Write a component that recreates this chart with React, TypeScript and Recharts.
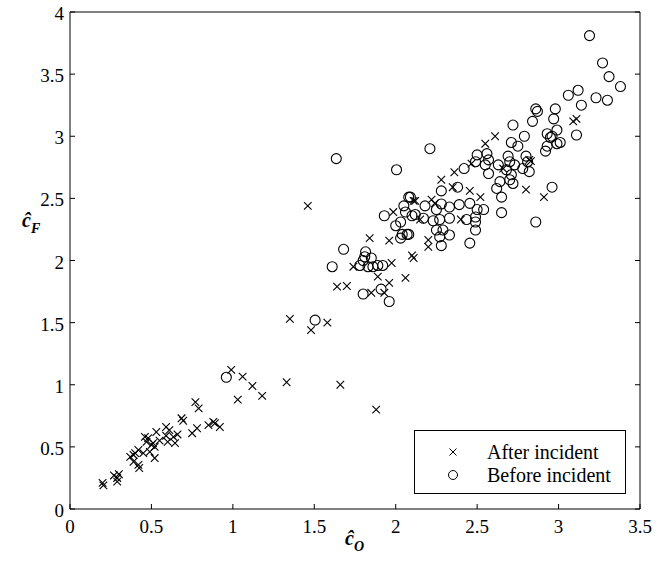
import React from 'react';
import { ScatterChart, Scatter, XAxis, YAxis, Legend } from 'recharts';

const xTicks = [0, 0.5, 1, 1.5, 2, 2.5, 3, 3.5];
const xTickLabels = ['0', '0.5', '1', '1.5', '2', '2.5', '3', '3.5'];
const yTicks = [0, 0.5, 1, 1.5, 2, 2.5, 3, 3.5, 4];
const yTickLabels = ['0', '0.5', '1', '1.5', '2', '2.5', '3', '3.5', '4'];
const seriesNames = ['After incident', 'Before incident'];

const afterIncident: [number, number][] = [
  [0.2, 0.21], [0.205, 0.19], [0.27, 0.27], [0.29, 0.25], [0.29, 0.22], [0.3, 0.28],
  [0.37, 0.42], [0.39, 0.38], [0.39, 0.435], [0.42, 0.355], [0.425, 0.33], [0.4, 0.45], [0.42, 0.475],
  [0.45, 0.45], [0.46, 0.58], [0.47, 0.54], [0.49, 0.46], [0.5, 0.515], [0.51, 0.53], [0.52, 0.41],
  [0.53, 0.62], [0.48, 0.57], [0.52, 0.5], [0.55, 0.55],
  [0.59, 0.66], [0.61, 0.635], [0.6, 0.54], [0.59, 0.59], [0.635, 0.58], [0.645, 0.53], [0.66, 0.6],
  [0.685, 0.73], [0.695, 0.71], [0.75, 0.61], [0.78, 0.65], [0.77, 0.86], [0.79, 0.81],
  [0.85, 0.675], [0.88, 0.7], [0.89, 0.69], [0.92, 0.66],
  [0.99, 1.12], [1.06, 1.065], [1.12, 0.99], [1.18, 0.91], [1.03, 0.88], [1.33, 1.02], [1.66, 1.0], [1.88, 0.8],
  [1.35, 1.53], [1.58, 1.5], [1.48, 1.44], [1.46, 2.44],
  [1.64, 1.79], [1.7, 1.795], [1.74, 1.95], [1.85, 1.74], [1.93, 1.74], [1.89, 1.87], [1.96, 1.82],
  [2.06, 1.86], [1.975, 1.98], [1.84, 2.18], [1.96, 2.16], [1.985, 2.39], [2.12, 2.48], [2.1, 2.04], [2.11, 2.02],
  [2.2, 2.165], [2.2, 2.11], [2.15, 2.33], [2.4, 2.33], [2.11, 2.48], [2.22, 2.49], [2.24, 2.46],
  [2.28, 2.65], [2.36, 2.71], [2.35, 2.59], [2.455, 2.56], [2.52, 2.51], [2.465, 2.78], [2.55, 2.94],
  [2.61, 3.0], [2.66, 2.74], [2.83, 2.8], [2.82, 2.81], [2.8, 2.57], [2.91, 2.51], [3.09, 3.12], [3.11, 3.14],
];

const beforeIncident: [number, number][] = [
  [0.96, 1.06], [1.505, 1.52], [1.635, 2.82], [1.61, 1.95], [1.68, 2.09], [1.8, 1.73], [1.91, 1.77], [1.96, 1.67],
  [1.815, 2.07], [1.81, 2.03], [1.85, 2.02], [1.8, 2.0], [1.78, 1.96], [1.83, 1.95], [1.86, 1.95], [1.89, 1.96], [1.92, 1.96],
  [2.005, 2.73], [2.21, 2.9], [1.93, 2.36], [2.03, 2.31], [2.0, 2.28], [2.04, 2.21], [2.07, 2.21], [2.03, 2.18],
  [2.08, 2.21], [2.05, 2.44], [2.08, 2.51], [2.1, 2.36], [2.09, 2.51], [2.06, 2.39], [2.12, 2.37], [2.17, 2.34],
  [2.18, 2.44], [2.25, 2.41], [2.28, 2.455], [2.33, 2.43], [2.39, 2.45], [2.455, 2.46], [2.5, 2.41], [2.54, 2.41],
  [2.49, 2.35], [2.435, 2.33], [2.33, 2.34], [2.27, 2.33], [2.23, 2.32], [2.25, 2.245], [2.29, 2.245], [2.33, 2.205],
  [2.27, 2.19], [2.28, 2.12], [2.455, 2.14], [2.49, 2.245], [2.49, 2.31],
  [2.28, 2.56], [2.38, 2.59], [2.42, 2.74],
  [2.5, 2.85], [2.56, 2.86], [2.57, 2.81], [2.49, 2.795], [2.55, 2.77], [2.57, 2.7], [2.63, 2.77], [2.69, 2.84],
  [2.7, 2.795], [2.73, 2.77], [2.68, 2.73], [2.8, 2.84], [2.81, 2.795], [2.78, 2.74], [2.82, 2.715], [2.64, 2.635],
  [2.7, 2.65], [2.72, 2.62], [2.62, 2.58], [2.65, 2.51], [2.71, 2.69], [2.96, 2.59], [2.86, 2.31], [2.65, 2.385],
  [2.71, 2.95], [2.75, 2.92], [2.79, 3.0], [2.93, 3.02], [2.96, 3.0], [2.99, 2.94], [2.92, 2.88], [2.93, 2.92],
  [2.72, 3.09], [2.84, 3.12], [2.86, 3.22], [2.87, 3.2], [2.98, 3.22], [2.97, 3.14], [2.99, 3.05], [2.95, 2.99], [3.01, 2.95],
  [3.11, 3.01], [3.14, 3.25], [3.06, 3.33], [3.12, 3.37], [3.23, 3.31], [3.3, 3.29], [3.38, 3.4], [3.31, 3.48],
  [3.27, 3.59], [3.19, 3.81],
];

const afterData = afterIncident.map(([x, y]) => ({ x, y }));
const beforeData = beforeIncident.map(([x, y]) => ({ x, y }));

const FONT = '"Liberation Serif", "Times New Roman", serif';
const TICK = 5;

const CrossShape = (p: any) => {
  const { cx, cy } = p;
  const s = 3.8;
  return (
    <path
      d={`M${cx - s},${cy - s}L${cx + s},${cy + s}M${cx - s},${cy + s}L${cx + s},${cy - s}`}
      stroke="#000"
      strokeWidth={1.1}
      fill="none"
    />
  );
};

const CircleShape = (p: any) => (
  <circle cx={p.cx} cy={p.cy} r={5} stroke="#000" strokeWidth={1.1} fill="none" />
);

const BottomTick = (p: any) => {
  const { x, y, payload } = p;
  const i = xTicks.indexOf(payload.value);
  return (
    <g>
      <line x1={x} x2={x} y1={y} y2={y - TICK} stroke="#000" />
      <text x={x} y={y + 24} textAnchor="middle" fontFamily={FONT} fontSize={19} fill="#000">
        {xTickLabels[i]}
      </text>
    </g>
  );
};

const TopTick = (p: any) => {
  const { x, y } = p;
  return <line x1={x} x2={x} y1={y} y2={y + TICK} stroke="#000" />;
};

const LeftTick = (p: any) => {
  const { x, y, payload } = p;
  const i = yTicks.indexOf(payload.value);
  return (
    <g>
      <line x1={x} x2={x + TICK} y1={y} y2={y} stroke="#000" />
      <text x={x - 6} y={y + 8} textAnchor="end" fontFamily={FONT} fontSize={19} fill="#000">
        {yTickLabels[i]}
      </text>
    </g>
  );
};

const RightTick = (p: any) => {
  const { x, y } = p;
  return <line x1={x} x2={x - TICK} y1={y} y2={y} stroke="#000" />;
};

const LegendBox = () => (
  <svg width={210} height={62} style={{ display: 'block' }}>
    <path d="M34.5,17.5L41.5,24.5M34.5,24.5L41.5,17.5" stroke="#000" strokeWidth={1} fill="none" />
    <text x={72} y={28} fontFamily={FONT} fontSize={20} fill="#000">{seriesNames[0]}</text>
    <circle cx={38} cy={44} r={4.5} stroke="#000" strokeWidth={1} fill="none" />
    <text x={72} y={51} fontFamily={FONT} fontSize={20} fill="#000">{seriesNames[1]}</text>
  </svg>
);

const XLabel = () => (
  <text x={345} y={545} fontFamily={FONT} fontSize={20} fontWeight="bold" fontStyle="italic" fill="#000">
    ĉ<tspan dy={6} fontSize={14}>O</tspan>
  </text>
);

const YLabel = () => (
  <text x={22} y={227} fontFamily={FONT} fontSize={20} fontWeight="bold" fontStyle="italic" fill="#000">
    ĉ<tspan dy={6} fontSize={14}>F</tspan>
  </text>
);

export default function App() {
  return (
    <div style={{ position: 'absolute', left: 0, top: 0, width: 668, height: 563, background: '#fff' }}>
      <ScatterChart width={668} height={563} margin={{ top: 11, right: 27, bottom: 53, left: 69 }}>
        <XAxis
          xAxisId="b"
          type="number"
          dataKey="x"
          domain={[0, 3.5]}
          ticks={xTicks}
          interval={0}
          allowDataOverflow
          height={1}
          tickSize={0}
          tickMargin={0}
          tickLine={false}
          axisLine={{ stroke: '#000' }}
          tick={BottomTick}
          label={{ content: XLabel }}
        />
        <XAxis
          xAxisId="t"
          orientation="top"
          type="number"
          domain={[0, 3.5]}
          ticks={xTicks}
          interval={0}
          allowDataOverflow
          height={1}
          tickSize={0}
          tickMargin={0}
          tickLine={false}
          axisLine={{ stroke: '#000' }}
          tick={TopTick}
        />
        <YAxis
          yAxisId="l"
          type="number"
          dataKey="y"
          domain={[0, 4]}
          ticks={yTicks}
          interval={0}
          allowDataOverflow
          width={1}
          tickSize={0}
          tickMargin={0}
          tickLine={false}
          axisLine={{ stroke: '#000' }}
          tick={LeftTick}
          label={{ content: YLabel }}
        />
        <YAxis
          yAxisId="r"
          orientation="right"
          type="number"
          domain={[0, 4]}
          ticks={yTicks}
          interval={0}
          allowDataOverflow
          width={1}
          tickSize={0}
          tickMargin={0}
          tickLine={false}
          axisLine={{ stroke: '#000' }}
          tick={RightTick}
        />
        <Scatter
          name={seriesNames[1]}
          data={beforeData}
          xAxisId="b"
          yAxisId="l"
          shape={CircleShape}
          isAnimationActive={false}
        />
        <Scatter
          name={seriesNames[0]}
          data={afterData}
          xAxisId="b"
          yAxisId="l"
          shape={CrossShape}
          isAnimationActive={false}
        />
        <Legend
          layout="vertical"
          align="center"
          verticalAlign="middle"
          content={LegendBox}
          wrapperStyle={{
            position: 'absolute',
            left: 414,
            top: 430,
            width: 212,
            height: 64,
            border: '1px solid #000',
            background: '#fff',
            boxSizing: 'border-box',
          }}
        />
      </ScatterChart>
    </div>
  );
}
